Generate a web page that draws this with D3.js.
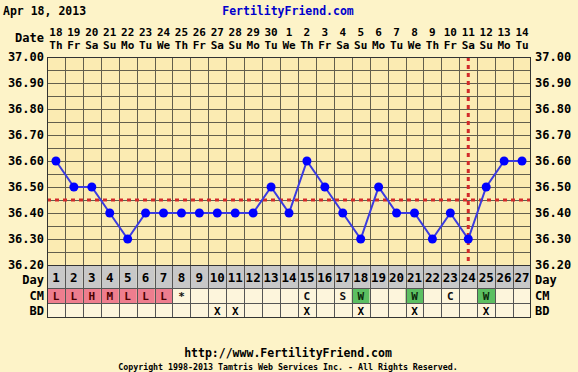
<!DOCTYPE html>
<html>
<head>
<meta charset="utf-8">
<script src="https://cdn.jsdelivr.net/npm/d3@7"></script>
<style>
  html, body { margin: 0; padding: 0; background: #fdf3c8; }
  svg { display: block; }
  text { font-family: "DejaVu Sans Mono", monospace; font-weight: bold; }
</style>
</head>
<body>
<svg id="chart" width="578" height="372"></svg>
<script>
// chart data
const dayNums = d3.range(1, 28);
const dates = ["18","19","20","21","22","23","24","25","26","27","28","29","30","1","2","3","4","5","6","7","8","9","10","11","12","13","14"];
const weekdays = ["Th","Fr","Sa","Su","Mo","Tu","We","Th","Fr","Sa","Su","Mo","Tu","We","Th","Fr","Sa","Su","Mo","Tu","We","Th","Fr","Sa","Su","Mo","Tu"];
const temps = [36.60,36.50,36.50,36.40,36.30,36.40,36.40,36.40,36.40,36.40,36.40,36.40,36.50,36.40,36.60,36.50,36.40,36.30,36.50,36.40,36.40,36.30,36.40,36.30,36.50,36.60,36.60];
const cm = ["L","L","H","M","L","L","L","*","","","","","","","C","","S","W","","","W","","C","","W","",""];
const bd = ["","","","","","","","","","X","X","","","","X","","","X","","","X","","","","X","",""];
const tempTicks = [37.00,36.90,36.80,36.70,36.60,36.50,36.40,36.30,36.20];
const coverline = 36.45;
const ovulationDay = 24;

const cmFill = { L: "#ee7d8e", H: "#ee7d8e", M: "#ee7d8e", W: "#5cbf62" };

const svg = d3.select("#chart");
const plotL = 47, plotR = 531, plotT = 57, plotB = 265;

const x = d3.scaleBand().domain(dayNums).range([plotL, plotR]);
const y = d3.scaleLinear().domain([36.2, 37.0]).range([plotB, plotT]);
const cx = d => x(d) + x.bandwidth() / 2;

// header
svg.append("text").attr("x", 3).attr("y", 15).attr("font-size", 11.5).text("Apr 18, 2013");
svg.append("text").attr("x", 288).attr("y", 15).attr("font-size", 11.5)
  .attr("text-anchor", "middle").attr("fill", "#0000cc").text("FertilityFriend.com");

svg.append("text").attr("x", 44).attr("y", 42).attr("font-size", 12)
  .attr("text-anchor", "end").text("Date");
svg.selectAll("text.dnum").data(dayNums).join("text").attr("class", "dnum")
  .attr("x", d => cx(d)).attr("y", 36).attr("font-size", 11)
  .attr("text-anchor", "middle").text((d, i) => dates[i]);
svg.selectAll("text.wday").data(dayNums).join("text").attr("class", "wday")
  .attr("x", d => cx(d)).attr("y", 49).attr("font-size", 11)
  .attr("text-anchor", "middle").text((d, i) => weekdays[i]);

// plot background
svg.append("rect").attr("x", plotL).attr("y", plotT)
  .attr("width", plotR - plotL).attr("height", plotB - plotT).attr("fill", "#fbebb2");

// grid
const grid = svg.append("g").attr("stroke", "#625e4c").attr("stroke-width", 1);
grid.selectAll("line.hg").data(d3.range(36.2, 37.0001, 0.05)).join("line").attr("class", "hg")
  .attr("x1", plotL).attr("x2", plotR)
  .attr("y1", d => Math.round(y(d)) + 0.5).attr("y2", d => Math.round(y(d)) + 0.5);
grid.selectAll("line.vg").data(dayNums.slice(1)).join("line").attr("class", "vg")
  .attr("x1", d => Math.round(x(d)) + 0.5).attr("x2", d => Math.round(x(d)) + 0.5)
  .attr("y1", plotT).attr("y2", plotB);

// axis labels both sides
svg.selectAll("text.yl").data(tempTicks).join("text").attr("class", "yl")
  .attr("x", 44).attr("y", d => y(d) + 4).attr("font-size", 12)
  .attr("text-anchor", "end").text(d => d.toFixed(2));
svg.selectAll("text.yr").data(tempTicks).join("text").attr("class", "yr")
  .attr("x", 535).attr("y", d => y(d) + 4).attr("font-size", 12)
  .text(d => d.toFixed(2));

// coverline and ovulation line
svg.append("line").attr("x1", plotL).attr("x2", plotR)
  .attr("y1", y(coverline)).attr("y2", y(coverline))
  .attr("stroke", "#d22a2a").attr("stroke-width", 3).attr("stroke-dasharray", "4,4");
svg.append("line").attr("x1", cx(ovulationDay)).attr("x2", cx(ovulationDay))
  .attr("y1", plotT).attr("y2", plotB)
  .attr("stroke", "#d22a2a").attr("stroke-width", 3).attr("stroke-dasharray", "4,4");

// temperature line
svg.append("path").datum(temps)
  .attr("fill", "none").attr("stroke", "#3b3be0").attr("stroke-width", 2)
  .attr("d", d3.line().x((d, i) => cx(dayNums[i])).y(d => y(d)));
svg.selectAll("circle.pt").data(temps).join("circle").attr("class", "pt")
  .attr("cx", (d, i) => cx(dayNums[i])).attr("cy", d => y(d)).attr("r", 4.5)
  .attr("fill", "#0000ff");

// table
const rowDay = [265, 288], rowCM = [288, 303], rowBD = [303, 318];
svg.selectAll("rect.dcell").data(dayNums).join("rect").attr("class", "dcell")
  .attr("x", d => x(d)).attr("y", rowDay[0]).attr("width", x.bandwidth()).attr("height", rowDay[1] - rowDay[0])
  .attr("fill", "#c8c8c8");
svg.selectAll("rect.ccell").data(dayNums).join("rect").attr("class", "ccell")
  .attr("x", d => x(d)).attr("y", rowCM[0]).attr("width", x.bandwidth()).attr("height", rowCM[1] - rowCM[0])
  .attr("fill", (d, i) => cmFill[cm[i]] || "#fdf5dc");
svg.selectAll("rect.bcell").data(dayNums).join("rect").attr("class", "bcell")
  .attr("x", d => x(d)).attr("y", rowBD[0]).attr("width", x.bandwidth()).attr("height", rowBD[1] - rowBD[0])
  .attr("fill", "#fdf5dc");

const tgrid = svg.append("g").attr("stroke", "#555").attr("stroke-width", 1);
tgrid.selectAll("line.tv").data(dayNums.slice(1)).join("line").attr("class", "tv")
  .attr("x1", d => Math.round(x(d)) + 0.5).attr("x2", d => Math.round(x(d)) + 0.5)
  .attr("y1", rowDay[0]).attr("y2", rowBD[1]);
tgrid.selectAll("line.th").data([rowCM[0], rowBD[0]]).join("line").attr("class", "th")
  .attr("x1", plotL).attr("x2", plotR).attr("y1", d => d + 0.5).attr("y2", d => d + 0.5);

svg.selectAll("text.dtxt").data(dayNums).join("text").attr("class", "dtxt")
  .attr("x", d => cx(d)).attr("y", 282).attr("font-size", 12.5)
  .attr("text-anchor", "middle").text(d => d);
svg.selectAll("text.ctxt").data(dayNums).join("text").attr("class", "ctxt")
  .attr("x", d => cx(d)).attr("y", 300).attr("font-size", 11)
  .attr("text-anchor", "middle")
  .attr("fill", (d, i) => cm[i] === "W" ? "#0b2a0b" : (cmFill[cm[i]] ? "#4a0000" : "#111"))
  .text((d, i) => cm[i]);
svg.selectAll("text.btxt").data(dayNums).join("text").attr("class", "btxt")
  .attr("x", d => cx(d)).attr("y", 315).attr("font-size", 11).attr("font-weight", "normal")
  .attr("text-anchor", "middle").text((d, i) => bd[i]);

// outer borders
svg.append("rect").attr("x", plotL + 0.5).attr("y", plotT + 0.5)
  .attr("width", plotR - plotL - 1).attr("height", rowBD[1] - plotT - 1)
  .attr("fill", "none").attr("stroke", "#333").attr("stroke-width", 1);
svg.append("line").attr("x1", plotL).attr("x2", plotR).attr("y1", plotB + 0.5).attr("y2", plotB + 0.5)
  .attr("stroke", "#333");

// row labels
[["Day", 283.5], ["CM", 300], ["BD", 315]].forEach(([t, ty]) => {
  svg.append("text").attr("x", 44).attr("y", ty).attr("font-size", 12).attr("text-anchor", "end").text(t);
  svg.append("text").attr("x", 535).attr("y", ty).attr("font-size", 12).text(t);
});

// footer
svg.append("text").attr("x", 288).attr("y", 357).attr("font-size", 11.5)
  .attr("text-anchor", "middle").text("http://www.FertilityFriend.com");
svg.append("text").attr("x", 288).attr("y", 370).attr("font-size", 8.3).attr("font-weight", "normal")
  .attr("text-anchor", "middle").text("Copyright 1998-2013 Tamtris Web Services Inc. - All Rights Reserved.");
</script>
</body>
</html>
